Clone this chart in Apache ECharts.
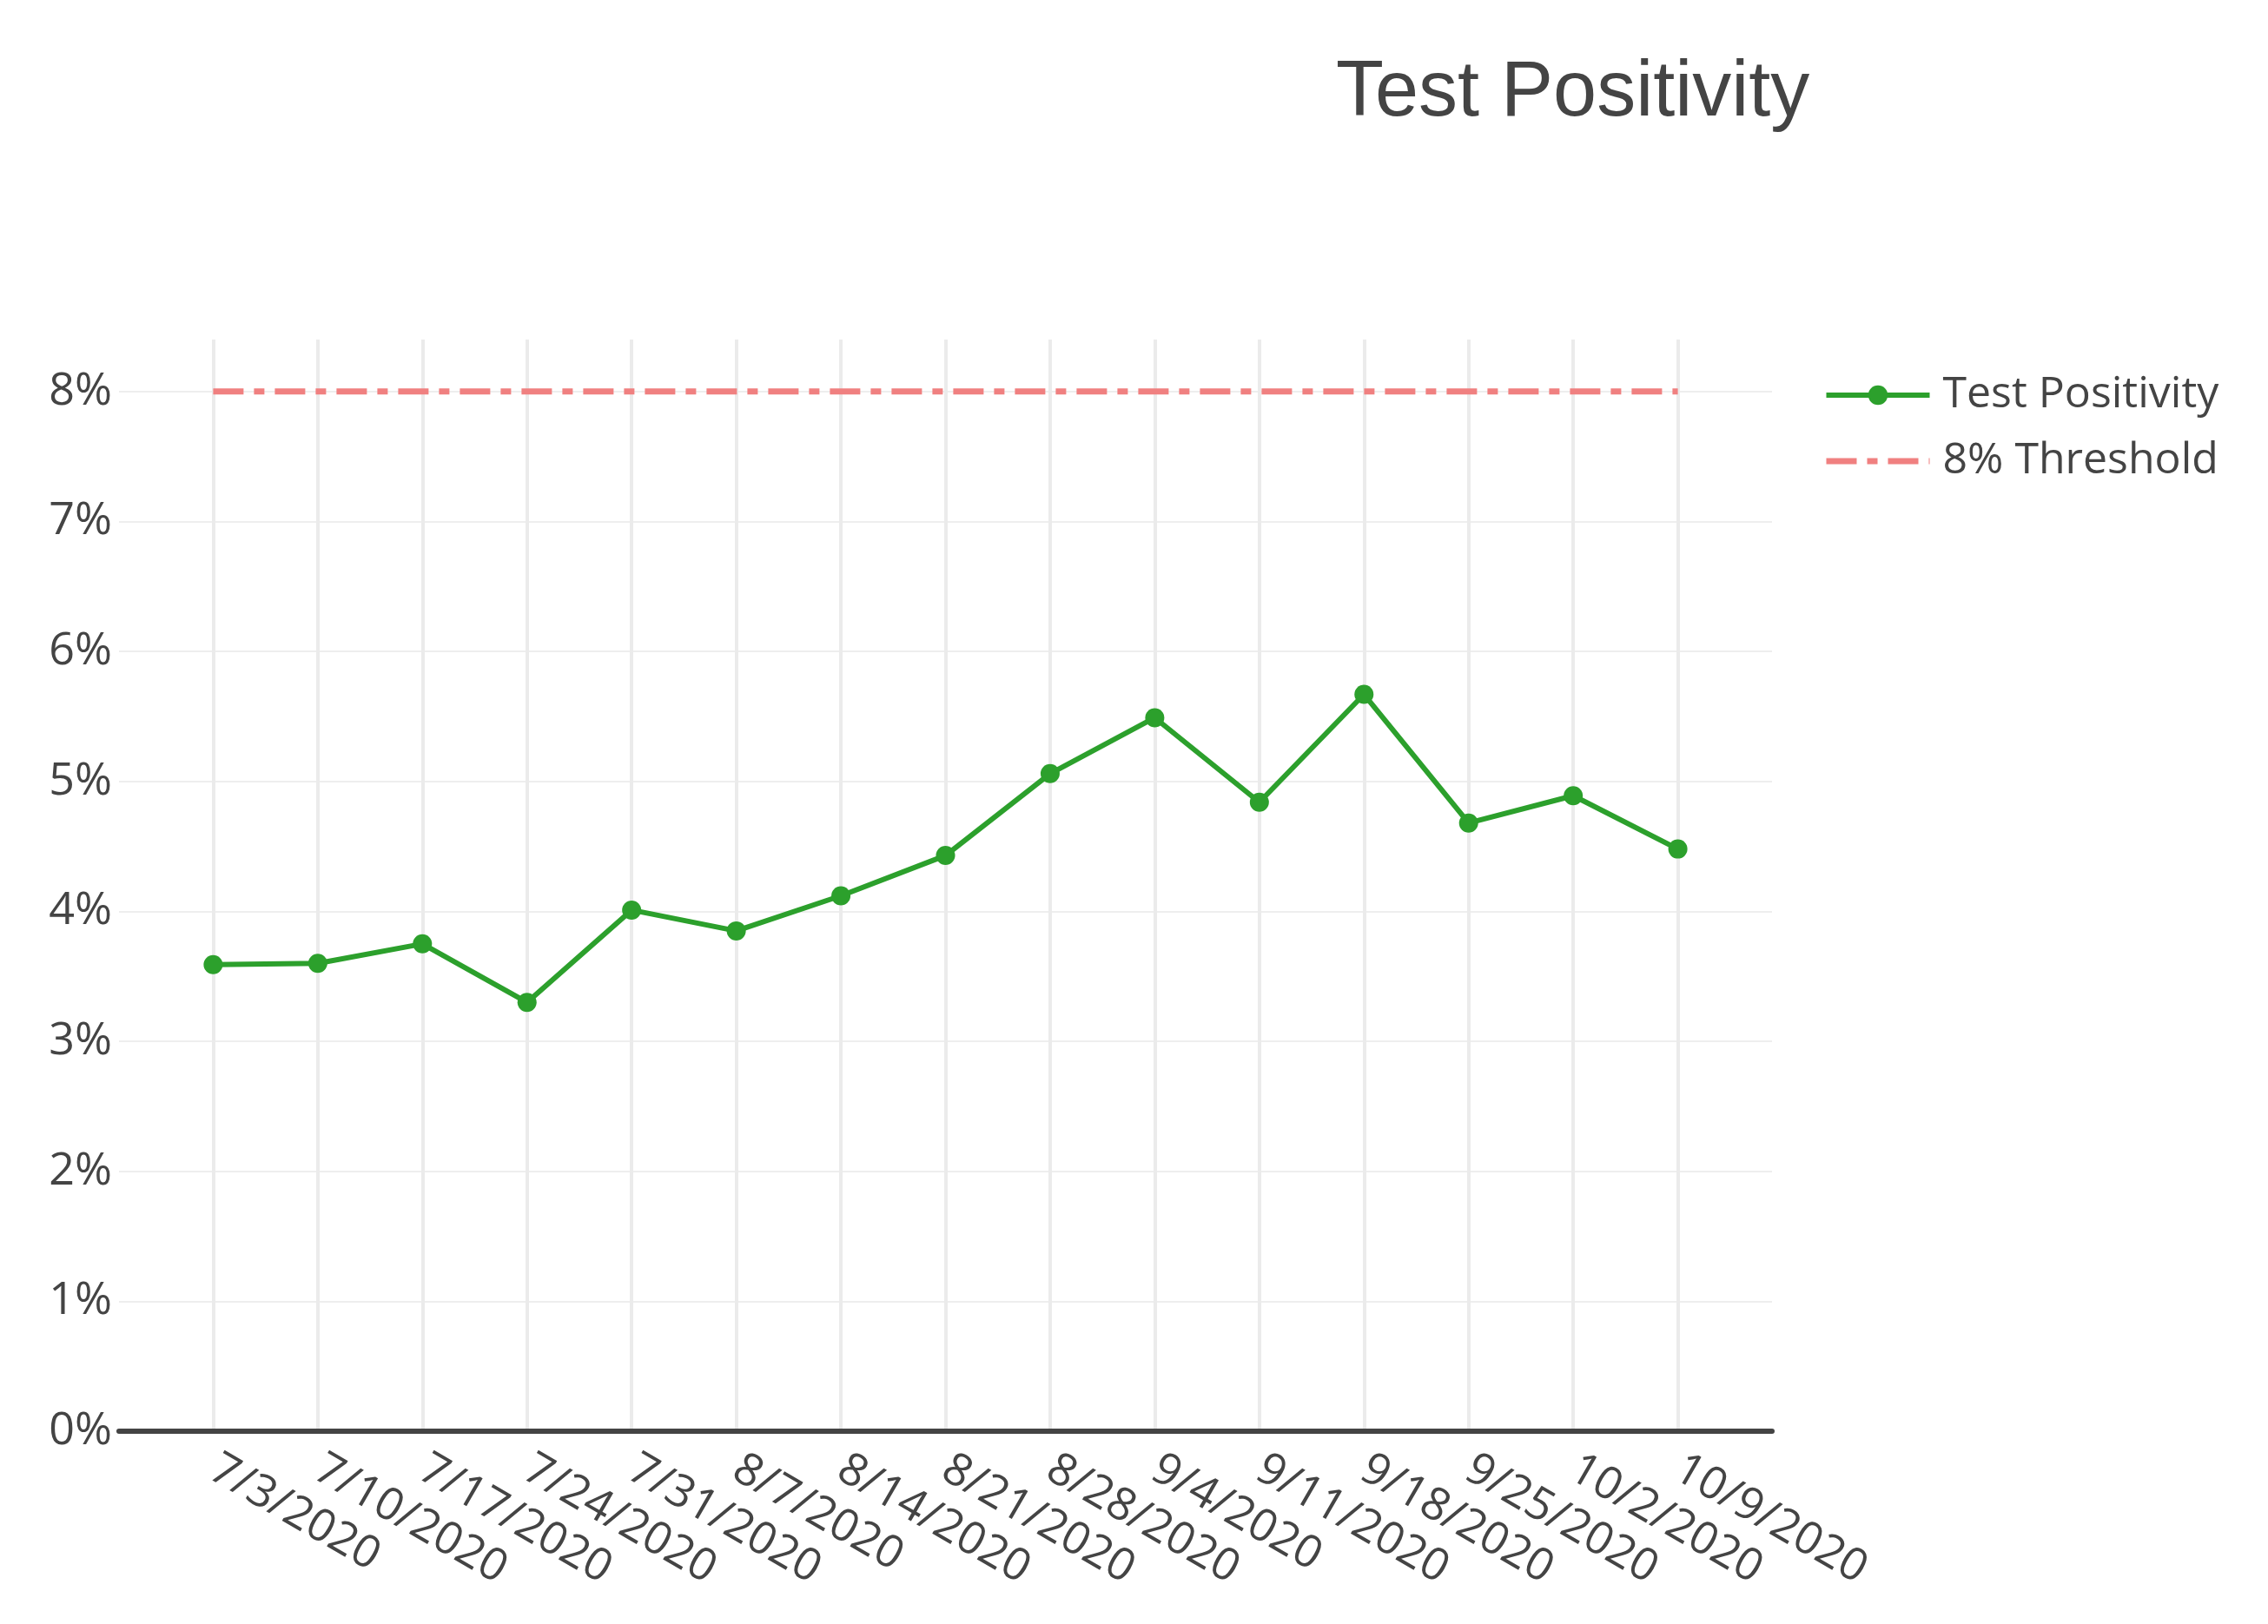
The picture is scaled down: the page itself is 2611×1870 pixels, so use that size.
<!DOCTYPE html>
<html>
<head>
<meta charset="utf-8">
<script src="https://cdn.jsdelivr.net/npm/echarts@6/dist/echarts.min.js"></script>
<style>
html,body{margin:0;padding:0;background:#fff;}
#main{width:2611px;height:1870px;}
</style>
</head>
<body>
<div id="main"></div>
<script>
const dates = ['7/3/2020','7/10/2020','7/17/2020','7/24/2020','7/31/2020','8/7/2020','8/14/2020','8/21/2020','8/28/2020','9/4/2020','9/11/2020','9/18/2020','9/25/2020','10/2/2020','10/9/2020'];
const positivity = [3.59, 3.60, 3.75, 3.30, 4.01, 3.85, 4.12, 4.43, 5.06, 5.49, 4.84, 5.67, 4.68, 4.89, 4.48];
const threshold = [8, 8, 8, 8, 8, 8, 8, 8, 8, 8, 8, 8, 8, 8, 8];
const yTicks = [0, 1, 2, 3, 4, 5, 6, 7, 8];

const xIdx = dates.map((d, i) => i);
const chart = echarts.init(document.getElementById('main'), null, {renderer: 'canvas'});
const font = "'Open Sans', 'DejaVu Sans', sans-serif";
chart.setOption({
  animation: false,
  backgroundColor: '#fff',
  title: {
    text: 'Test Positivity',
    left: 1538,
    top: 63,
    padding: 0,
    textStyle: {fontFamily: "'Liberation Sans', Arial, sans-serif", fontSize: 90, fontWeight: 'normal', color: '#444'}
  },
  legend: {
    orient: 'vertical',
    left: 2094,
    top: 424,
    itemWidth: 119,
    itemHeight: 28,
    itemGap: 24,
    textStyle: {fontFamily: font, fontSize: 50, color: '#444', lineHeight: 52, padding: [0, 0, 0, 10]},
    data: [
      {name: 'Test Positivity', lineStyle: {width: 6}},
      {name: '8% Threshold', lineStyle: {width: 7}, itemStyle: {opacity: 0}}
    ]
  },
  grid: {left: 137, right: 571, top: 391, bottom: 222, containLabel: false},
  xAxis: {
    type: 'value',
    min: -0.9,
    max: 14.9,
    axisLine: {show: true, lineStyle: {color: '#444', width: 6}},
    axisTick: {show: false, customValues: xIdx},
    axisLabel: {
      customValues: xIdx,
      formatter: v => dates[v],
      rotate: -30,
      margin: 40,
      fontFamily: font,
      fontSize: 52,
      color: '#444'
    },
    splitLine: {show: true, lineStyle: {color: '#ebebeb', width: 4}}
  },
  yAxis: {
    type: 'value',
    min: 0,
    max: 8.4,
    axisLine: {show: false},
    axisTick: {show: false, customValues: yTicks},
    axisLabel: {
      customValues: yTicks,
      formatter: v => v + '%',
      margin: 8,
      fontFamily: font,
      fontSize: 52,
      color: '#444'
    },
    splitLine: {show: true, lineStyle: {color: '#eeeeee', width: 2}}
  },
  series: [
    {
      name: 'Test Positivity',
      type: 'line',
      data: positivity.map((v, i) => [xIdx[i], v]),
      color: '#2ca02c',
      lineStyle: {width: 6, color: '#2ca02c'},
      symbol: 'circle',
      symbolSize: 22,
      itemStyle: {color: '#2ca02c'},
      z: 3
    },
    {
      name: '8% Threshold',
      type: 'line',
      data: threshold.map((v, i) => [xIdx[i], v]),
      color: '#F08080',
      lineStyle: {width: 7, color: '#F08080', type: [35, 12, 12, 12]},
      symbol: 'none',
      itemStyle: {color: '#F08080'},
      z: 2
    }
  ]
});
</script>
</body>
</html>
